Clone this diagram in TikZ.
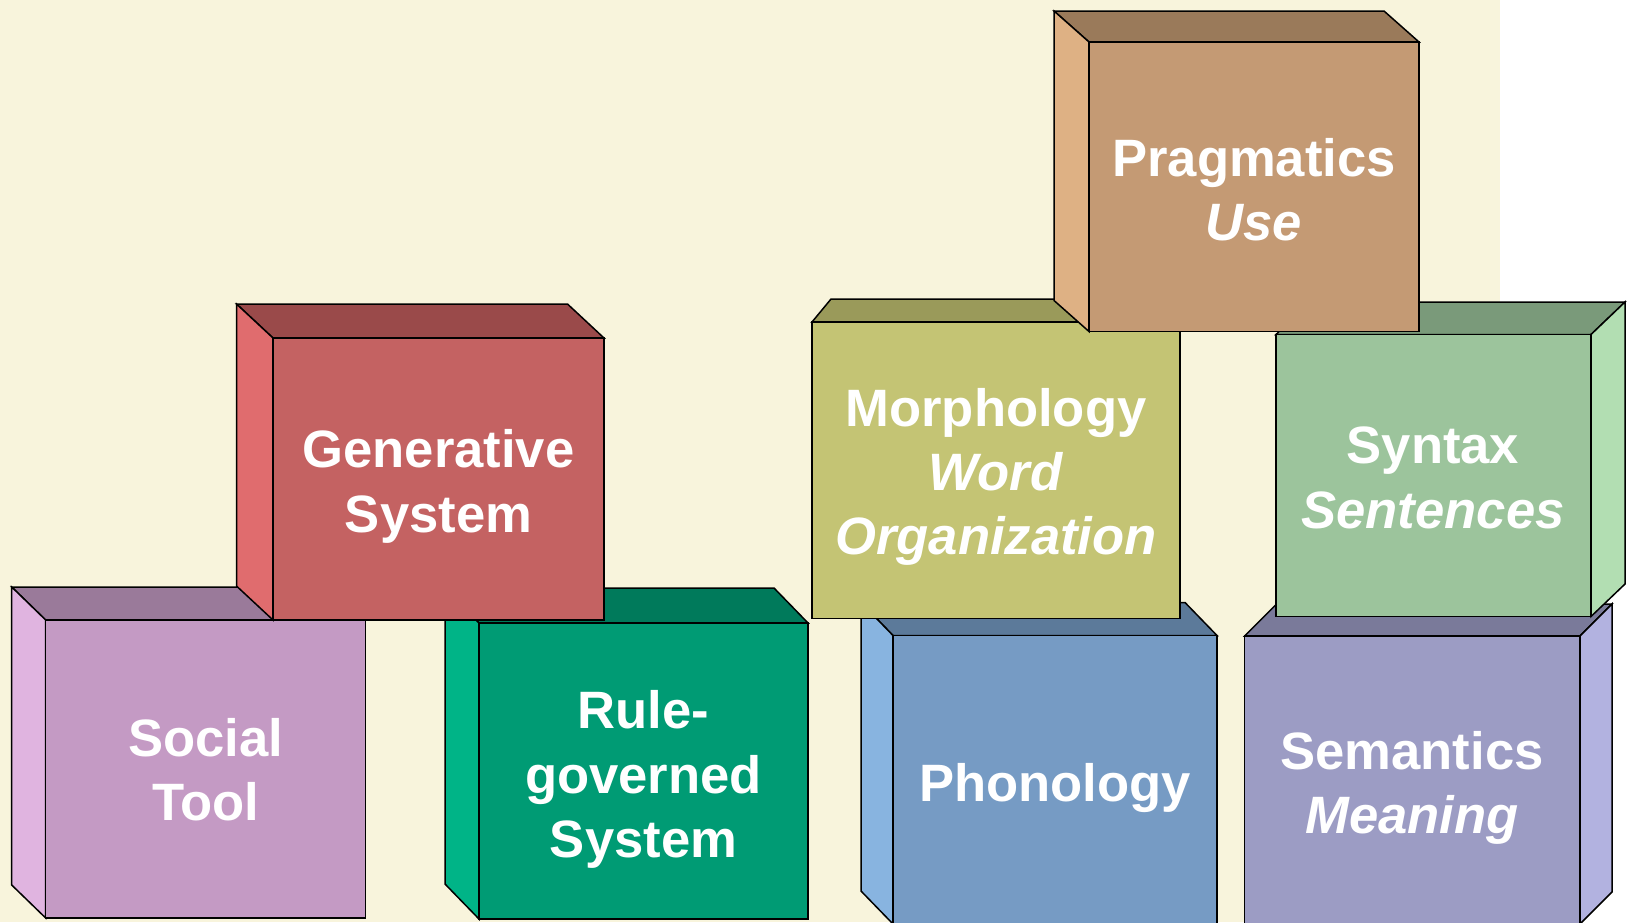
\documentclass[tikz,border=0pt]{standalone}
\usepackage{fontspec}
\setmainfont{Liberation Sans}
\definecolor{bg}{HTML}{F8F4DC}
\definecolor{socF}{HTML}{C49AC4}\definecolor{socS}{HTML}{E0B4E0}\definecolor{socT}{HTML}{9A7A9A}
\definecolor{genF}{HTML}{C46262}\definecolor{genS}{HTML}{E06C6E}\definecolor{genT}{HTML}{9A4A4A}
\definecolor{rulF}{HTML}{009B74}\definecolor{rulS}{HTML}{00B487}\definecolor{rulT}{HTML}{007A5B}
\definecolor{morF}{HTML}{C4C474}\definecolor{morT}{HTML}{9A9A5A}
\definecolor{praF}{HTML}{C49A74}\definecolor{praS}{HTML}{DEB184}\definecolor{praT}{HTML}{9A7A5A}
\definecolor{synF}{HTML}{9CC49C}\definecolor{synS}{HTML}{B2DEB2}\definecolor{synT}{HTML}{7A9A7A}
\definecolor{phoF}{HTML}{769BC4}\definecolor{phoS}{HTML}{88B4E0}\definecolor{phoT}{HTML}{5C7A9A}
\definecolor{semF}{HTML}{9C9CC4}\definecolor{semS}{HTML}{B2B2E0}\definecolor{semT}{HTML}{7A7A9A}
\tikzset{
  front/.style={draw, rectangle, inner sep=0pt, outer sep=0pt, anchor=north west},
  face/.style={draw},
  lbl/.style={text=white, align=center, inner sep=0pt,
    font=\fontsize{52.6}{64.3}\selectfont\bfseries},
}
% name, L, T, R, B, dx, dy, colour prefix
\newcommand\mycube[8]{%
  \filldraw[face, fill=#8T] (#2,#3) -- ({#2+#6},{#3+#7}) -- ({#4+#6},{#3+#7}) -- (#4,#3) -- cycle;
  \ifdim #6pt<0pt
    \filldraw[face, fill=#8S] (#2,#3) -- ({#2+#6},{#3+#7}) -- ({#2+#6},{#5+#7}) -- (#2,#5) -- cycle;
  \else
    \filldraw[face, fill=#8S] (#4,#3) -- ({#4+#6},{#3+#7}) -- ({#4+#6},{#5+#7}) -- (#4,#5) -- cycle;
  \fi
  \node[front, fill=#8F, minimum width={(#4-#2)*1pt}, minimum height={(#5-#3)*1pt}] (#1) at (#2,#3) {};
}
\begin{document}
\begin{tikzpicture}[x=1pt, y=-1pt, line width=1.5pt]
\useasboundingbox (0,0) rectangle (1628,922);
\clip (0,0) rectangle (1628,922);
\fill[white] (0,0) rectangle (1628,922);
\fill[bg] (0,0) rectangle (1500,922);

% Social Tool
\mycube{soc}{45.7}{620}{365.7}{918}{-34}{-33}{soc}
\node[lbl] (soc-t) at (205.7,769.5) {Social\\Tool};
% Rule-governed System
\mycube{rul}{479}{623}{808}{919}{-34}{-35}{rul}
\node[lbl] (rul-t) at (643.5,779.5) {Rule-\\governed\\System};
% Generative System
\mycube{gen}{273}{338}{604}{620}{-36.5}{-34}{gen}
\node[lbl] (gen-t) at (438.5,486.5) {Generative\\System};

% Phonology
\mycube{pho}{893}{635.5}{1217}{924}{-32}{-33}{pho}
\node[lbl] (pho-t) at (1055,788.5) {Phonology};
% Semantics
\mycube{sem}{1244.6}{636}{1580}{924}{32}{-32}{sem}
\node[lbl] (sem-t) at (1412,788) {Semantics\\\textit{Meaning}};
% Morphology (top face only)
\filldraw[face, fill=morT] (812,322) -- (831,299) -- (1199,299) -- (1180,322) -- cycle;
\node[front, fill=morF, minimum width=368pt, minimum height=296.5pt] (mor) at (812,322) {};
\node[lbl] (mor-t) at (996,477) {Morphology\\\textit{Word}\\\textit{Organization}};
% Syntax
\mycube{syn}{1276}{334.5}{1591}{616.5}{34}{-32.5}{syn}
\node[lbl] (syn-t) at (1433,478) {Syntax\\\textit{Sentences}};
% Pragmatics
\mycube{pra}{1089}{42}{1419}{331.5}{-35}{-31}{pra}
\node[lbl] (pra-t) at (1254,189.5) {Pragmatics\\\textit{Use}};
\end{tikzpicture}
\end{document}
